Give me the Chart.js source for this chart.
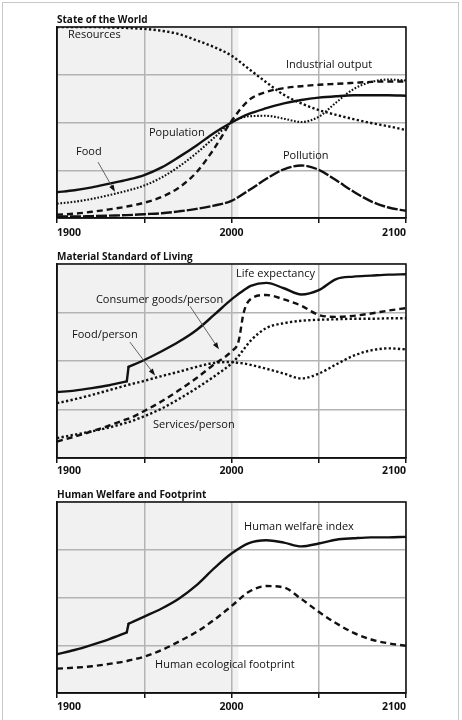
<!DOCTYPE html>
<html>
<head>
<meta charset="utf-8">
<script src="https://cdn.jsdelivr.net/npm/chart.js@4.4.0/dist/chart.umd.min.js"></script>
<style>
  body { margin: 0; background: #fff; }
  #page { position: relative; width: 462px; height: 720px; overflow: hidden; }
  #frame { position: absolute; left: 2px; top: 2px; width: 455px; height: 730px; border: 1px solid #c8c8c8; }
  canvas { position: absolute; left: 0; }
</style>
</head>
<body>
<div id="page">
  <div id="frame"></div>
  <canvas id="world" width="462" height="240" style="top:0"></canvas>
  <canvas id="living" width="462" height="240" style="top:237px"></canvas>
  <canvas id="welfare" width="462" height="245" style="top:475px"></canvas>
</div>
<script>
// --- State of the World ---
const worldYears = [1900, 1910, 1920, 1930, 1940, 1950, 1960, 1970, 1980, 1990, 2000,
                    2010, 2020, 2030, 2040, 2050, 2060, 2070, 2080, 2090, 2100];
const population = [0.54, 0.58, 0.64, 0.72, 0.80, 0.90, 1.06, 1.28, 1.52, 1.78, 2.00,
                    2.18, 2.30, 2.40, 2.47, 2.52, 2.55, 2.57, 2.57, 2.57, 2.56];
const food = [0.30, 0.34, 0.40, 0.48, 0.57, 0.68, 0.85, 1.08, 1.36, 1.68, 2.00,
              2.13, 2.14, 2.08, 2.01, 2.12, 2.42, 2.70, 2.85, 2.90, 2.88];
const industrialOutput = [0.07, 0.09, 0.13, 0.18, 0.24, 0.32, 0.44, 0.64, 0.96, 1.45, 2.03,
                          2.47, 2.64, 2.72, 2.76, 2.79, 2.81, 2.83, 2.85, 2.86, 2.86];
const resources = [4.00, 4.00, 4.00, 3.99, 3.98, 3.96, 3.92, 3.85, 3.72, 3.58, 3.40,
                   3.12, 2.84, 2.58, 2.40, 2.26, 2.16, 2.07, 1.99, 1.92, 1.84];
const pollution = [0.03, 0.03, 0.04, 0.05, 0.06, 0.08, 0.10, 0.14, 0.19, 0.26, 0.36,
                   0.58, 0.82, 1.02, 1.10, 1.01, 0.79, 0.55, 0.35, 0.22, 0.15];

// --- Material Standard of Living ---
const livingYears = [1900, 1910, 1920, 1930, 1940, 1941, 1950, 1960, 1970, 1980, 1990, 2000,
                     2004, 2007, 2011, 2020, 2030, 2040, 2050, 2060, 2070, 2080, 2090, 2100];
const lifeExpectancy = [1.36, 1.39, 1.44, 1.50, 1.58, 1.88, 2.02, 2.20, 2.40, 2.64, 2.95, 3.27,
                        3.38, 3.46, 3.55, 3.61, 3.50, 3.37, 3.46, 3.69, 3.74, 3.76, 3.78, 3.79];
const consumerGoods = [0.34, 0.44, 0.55, 0.67, 0.80, 0.81, 0.97, 1.17, 1.40, 1.65, 1.93, 2.20,
                       2.40, 3.00, 3.28, 3.36, 3.27, 3.14, 2.95, 2.91, 2.93, 2.98, 3.04, 3.09];
const services = [0.41, 0.48, 0.55, 0.63, 0.73, 0.74, 0.86, 1.02, 1.22, 1.44, 1.68, 1.95,
                  2.10, 2.24, 2.42, 2.68, 2.78, 2.83, 2.85, 2.86, 2.87, 2.87, 2.88, 2.88];
const foodPerPerson = [1.13, 1.21, 1.30, 1.40, 1.50, 1.51, 1.59, 1.69, 1.78, 1.88, 1.96, 1.98,
                       1.96, 1.95, 1.92, 1.84, 1.74, 1.64, 1.74, 1.93, 2.11, 2.22, 2.26, 2.24];

// --- Human Welfare and Footprint ---
const welfareYears = [1900, 1910, 1920, 1930, 1940, 1941, 1950, 1960, 1970, 1980, 1990,
                      2000, 2010, 2020, 2030, 2040, 2050, 2060, 2070, 2080, 2090, 2100];
const welfareIndex = [0.81, 0.90, 1.01, 1.13, 1.27, 1.45, 1.60, 1.77, 1.98, 2.26, 2.61,
                      2.92, 3.14, 3.20, 3.15, 3.07, 3.13, 3.21, 3.24, 3.26, 3.26, 3.27];
const footprint = [0.51, 0.53, 0.56, 0.61, 0.67, 0.68, 0.76, 0.90, 1.08, 1.28, 1.53,
                   1.82, 2.12, 2.24, 2.21, 1.97, 1.70, 1.46, 1.26, 1.12, 1.04, 0.99];

const xTickLabels = ['1900', '2000', '2100'];

const FONT = '"Open Sans", "DejaVu Sans", sans-serif';
const INK = '#111';

const SOLID = { borderWidth: 2.4, borderCapStyle: 'round' };
const DASH = { borderWidth: 2.4, borderDash: [6, 4] };
const LONG_DASH = { borderWidth: 2.4, borderDash: [11, 2] };
const DOT = { borderWidth: 2.4, borderDash: [2.3, 2.3] };
const FINE_DOT = { borderWidth: 2.1, borderDash: [1.7, 1.7] };

function series(label, xs, ys, style) {
  return Object.assign({
    label,
    data: xs.map((x, i) => ({ x, y: ys[i] })),
    borderColor: INK,
    pointRadius: 0,
    fill: false,
    cubicInterpolationMode: 'monotone',
    borderCapStyle: 'butt',
  }, style);
}

// a curve with a sudden step: smooth before and after, straight across the step
function steppedSeries(label, xs, ys, style, stepYear) {
  const i = xs.indexOf(stepYear);
  const straight = Object.assign({}, style, { cubicInterpolationMode: 'default', tension: 0 });
  return [
    series(label, xs.slice(0, i), ys.slice(0, i), style),
    series(label, xs.slice(i - 1, i + 1), ys.slice(i - 1, i + 1), straight),
    series(label, xs.slice(i), ys.slice(i), style),
  ];
}

// shading for the historical part, plot frame, curve labels and arrows
const panelDecor = {
  id: 'panelDecor',
  beforeDraw(chart, args, opts) {
    const { ctx, chartArea: a, scales: { x } } = chart;
    ctx.save();
    ctx.fillStyle = '#f1f1f1';
    ctx.fillRect(a.left, a.top, x.getPixelForValue(opts.shadeTo) - a.left, a.bottom - a.top);
    ctx.restore();
  },
  afterDraw(chart, args, opts) {
    const { ctx, chartArea: a, scales: { x, y } } = chart;
    ctx.save();
    ctx.strokeStyle = INK;
    ctx.lineWidth = 1.5;
    ctx.strokeRect(a.left, a.top, a.right - a.left, a.bottom - a.top);

    ctx.fillStyle = INK;
    ctx.font = '11px ' + FONT;
    ctx.textBaseline = 'middle';
    ctx.textAlign = 'left';
    (opts.labels || []).forEach(l => {
      ctx.fillText(l.text, x.getPixelForValue(l.x), y.getPixelForValue(l.y));
    });

    (opts.arrows || []).forEach(ar => {
      const x0 = x.getPixelForValue(ar.from[0]), y0 = y.getPixelForValue(ar.from[1]);
      const x1 = x.getPixelForValue(ar.to[0]), y1 = y.getPixelForValue(ar.to[1]);
      const ang = Math.atan2(y1 - y0, x1 - x0);
      ctx.strokeStyle = '#555';
      ctx.lineWidth = 0.9;
      ctx.beginPath();
      ctx.moveTo(x0, y0);
      ctx.lineTo(x1 - 6 * Math.cos(ang), y1 - 6 * Math.sin(ang));
      ctx.stroke();
      ctx.fillStyle = INK;
      ctx.beginPath();
      ctx.moveTo(x1, y1);
      ctx.lineTo(x1 - 7 * Math.cos(ang) + 2.5 * Math.sin(ang), y1 - 7 * Math.sin(ang) - 2.5 * Math.cos(ang));
      ctx.lineTo(x1 - 7 * Math.cos(ang) - 2.5 * Math.sin(ang), y1 - 7 * Math.sin(ang) + 2.5 * Math.cos(ang));
      ctx.closePath();
      ctx.fill();
    });
    ctx.restore();
  }
};

function makePanel(id, title, datasets, notes, axisHeight, tickPad) {
  return new Chart(document.getElementById(id), {
    type: 'line',
    data: { datasets },
    options: {
      responsive: false,
      animation: false,
      events: [],
      layout: { padding: { left: 57, right: 56, top: 0, bottom: 0 } },
      scales: {
        x: {
          type: 'linear',
          min: 1900,
          max: 2100,
          afterFit: s => { s.height = axisHeight; },
          ticks: {
            stepSize: 50,
            align: 'inner',
            autoSkip: false,
            maxRotation: 0,
            padding: tickPad,
            color: INK,
            font: { family: FONT, size: 10.5, weight: 'bold' },
            callback: v => (xTickLabels.includes(String(v)) ? String(v) : ''),
          },
          grid: { color: '#b4b4b4', lineWidth: 1.5, tickLength: 5, tickColor: INK, tickWidth: 1.5 },
          border: { color: INK, width: 1.5 },
        },
        y: {
          min: 0,
          max: 4,
          afterFit: s => { s.width = 0; },
          ticks: { display: false, stepSize: 1 },
          grid: { color: '#b4b4b4', lineWidth: 1.5, drawTicks: false },
          border: { color: INK, width: 1.5 },
        },
      },
      plugins: {
        legend: { display: false },
        tooltip: { enabled: false },
        title: {
          display: true,
          text: title,
          align: 'start',
          color: INK,
          font: { family: FONT, size: 10, weight: 'bold' },
          padding: { top: 14, bottom: 1 },
        },
        panelDecor: notes,
      },
    },
    plugins: [panelDecor],
  });
}

makePanel('world', 'State of the World', [
  series('Resources', worldYears, resources, DOT),
  series('Industrial output', worldYears, industrialOutput, DASH),
  series('Food', worldYears, food, FINE_DOT),
  series('Pollution', worldYears, pollution, LONG_DASH),
  series('Population', worldYears, population, SOLID),
], {
  shadeTo: 2004,
  labels: [
    { text: 'Resources', x: 1906.3, y: 3.83 },
    { text: 'Industrial output', x: 2031.2, y: 3.20 },
    { text: 'Population', x: 1952.7, y: 1.78 },
    { text: 'Food', x: 1910.9, y: 1.38 },
    { text: 'Pollution', x: 2029.5, y: 1.30 },
  ],
  arrows: [{ from: [1923.5, 1.17], to: [1933.2, 0.55] }],
}, 22, 4);

makePanel('living', 'Material Standard of Living', [
  series('Consumer goods/person', livingYears, consumerGoods, DASH),
  series('Services/person', livingYears, services, DOT),
  series('Food/person', livingYears, foodPerPerson, DOT),
  ...steppedSeries('Life expectancy', livingYears, lifeExpectancy, SOLID, 1941),
], {
  shadeTo: 2004,
  labels: [
    { text: 'Life expectancy', x: 2002.6, y: 3.79 },
    { text: 'Consumer goods/person', x: 1922.3, y: 3.26 },
    { text: 'Food/person', x: 1908.6, y: 2.54 },
    { text: 'Services/person', x: 1955, y: 0.69 },
  ],
  arrows: [
    { from: [1976.2, 3.13], to: [1992.8, 2.24] },
    { from: [1941.8, 2.39], to: [1956.2, 1.70] },
  ],
}, 19, 2);

makePanel('welfare', 'Human Welfare and Footprint', [
  series('Human ecological footprint', welfareYears, footprint, DASH),
  ...steppedSeries('Human welfare index', welfareYears, welfareIndex, SOLID, 1941),
], {
  shadeTo: 2004,
  labels: [
    { text: 'Human welfare index', x: 2007.2, y: 3.48 },
    { text: 'Human ecological footprint', x: 1956.2, y: 0.59 },
  ],
}, 27, 3);
</script>
</body>
</html>
